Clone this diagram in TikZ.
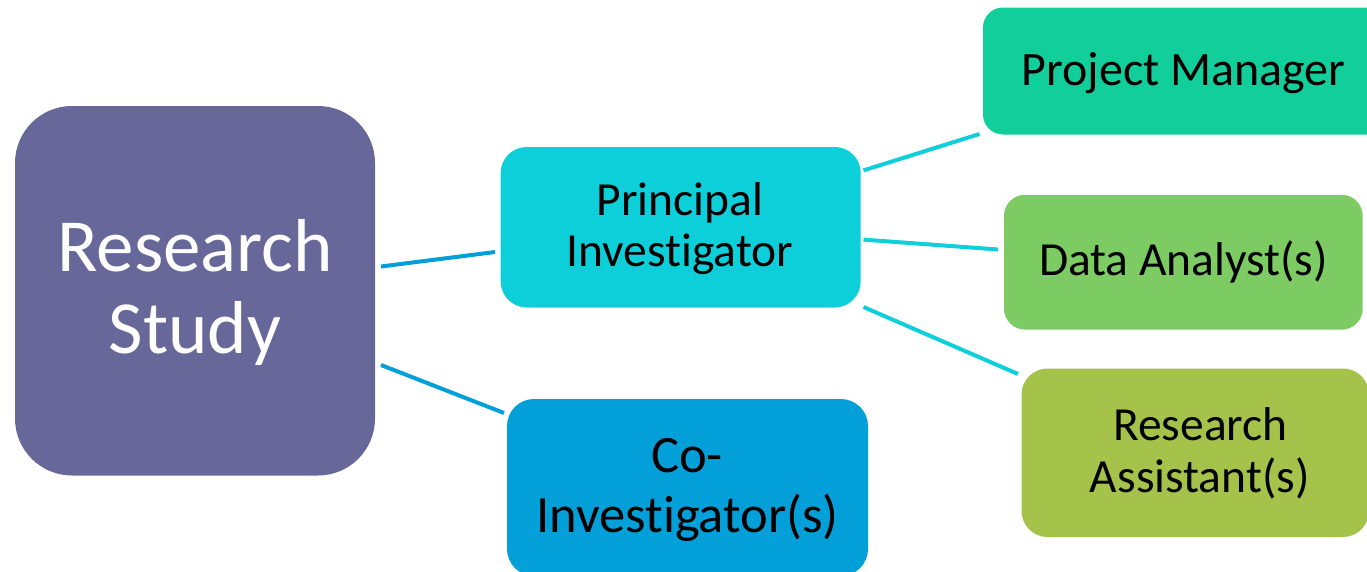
\documentclass[tikz,border=0pt]{standalone}
\usepackage{fontspec}
\setmainfont{Carlito}[Ligatures={NoCommon,NoContextual}, Contextuals=NoAlternate]
\usetikzlibrary{calc}
\definecolor{rscol}{HTML}{676799}
\definecolor{picol}{HTML}{0DCFDA}
\definecolor{cocol}{HTML}{029FD9}
\definecolor{pmcol}{HTML}{12CE9A}
\definecolor{dacol}{HTML}{7DCB63}
\definecolor{racol}{HTML}{A5C24A}
\definecolor{linedark}{HTML}{039FD9}
\definecolor{linelight}{HTML}{0ECFDA}
\tikzset{
  boxbase/.style={draw=none, inner sep=0pt, outer sep=0pt},
  txt/.style={inner sep=0pt, anchor=base},
  conn/.style={line width=4pt},
}
\begin{document}
\begin{tikzpicture}[x=1pt,y=-1pt]
\useasboundingbox (0,0) rectangle (1367,571);
% boxes
\node[boxbase, fill=rscol, rounded corners=57pt, minimum width=360pt, minimum height=369.5pt] (rs) at (195,290.75) {};
\node[boxbase, fill=picol, rounded corners=26pt, minimum width=360pt, minimum height=160.5pt] (pi) at (680.7,227.25) {};
\node[boxbase, fill=cocol, rounded corners=27pt, minimum width=361pt, minimum height=177pt] (co) at (687.5,487.5) {};
\node[boxbase, fill=pmcol, rounded corners=20pt, minimum width=407pt, minimum height=127pt] (pm) at (1186.5,71) {};
\node[boxbase, fill=dacol, rounded corners=21pt, minimum width=358.7pt, minimum height=134.8pt] (da) at (1183.35,262.2) {};
\node[boxbase, fill=racol, rounded corners=26pt, minimum width=347.5pt, minimum height=168.5pt] (ra) at (1195.25,452.75) {};
% texts
\node[txt, text=white, font=\fontsize{75}{80}\selectfont] (rs1) at (195,271.7) {Research};
\node[txt, text=white, font=\fontsize{75}{80}\selectfont] (rs2) at (195,353) {Study};
\node[txt, font=\fontsize{47.5}{50}\selectfont] (pi1) at (680,215) {Principal};
\node[txt, font=\fontsize{47.5}{50}\selectfont] (pi2) at (680,266.7) {Investigator};
\node[txt, font=\fontsize{52.5}{56}\selectfont] (co1) at (687,472) {Co-};
\node[txt, font=\fontsize{52.5}{56}\selectfont] (co2) at (687.5,532) {Investigator(s)};
\node[txt, font=\fontsize{48}{50}\selectfont] (pm1) at (1183.5,85.6) {Project Manager};
\node[txt, font=\fontsize{47.5}{50}\selectfont] (da1) at (1183.5,275) {Data Analyst(s)};
\node[txt, font=\fontsize{47.5}{50}\selectfont] (ra1) at (1200.5,440.6) {Research};
\node[txt, font=\fontsize{47.5}{50}\selectfont] (ra2) at (1199.7,492.4) {Assistant(s)};
% connectors
\draw[conn, linedark] ([xshift=6pt,yshift=24.25pt]rs.east) -- ([xshift=-5.7pt,yshift=-24.75pt]pi.west);
\draw[conn, linedark] ([xshift=6pt,yshift=-74.25pt]rs.east) -- ([xshift=-3pt,yshift=74.5pt]co.west);
\draw[conn, linelight] ([xshift=2.8pt,yshift=56.85pt]pi.east) -- ([xshift=-3.5pt,yshift=-63pt]pm.west);
\draw[conn, linelight] ([xshift=2.8pt,yshift=-12.35pt]pi.east) -- ([xshift=-6pt,yshift=12.7pt]da.west);
\draw[conn, linelight] ([xshift=2.8pt,yshift=-79.75pt]pi.east) -- ([xshift=-3.5pt,yshift=78.75pt]ra.west);
\end{tikzpicture}
\end{document}
